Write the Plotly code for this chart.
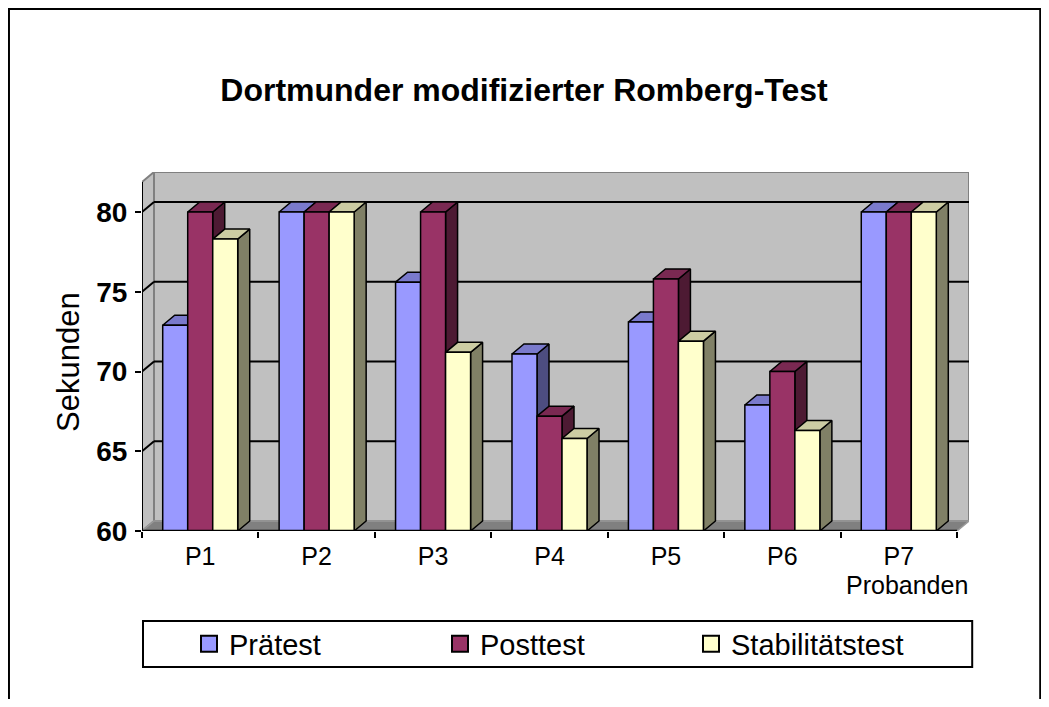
import plotly.graph_objects as go

# ---------------- data ----------------
categories = ["P1", "P2", "P3", "P4", "P5", "P6", "P7"]
praetest = [72.9, 80, 75.6, 71.1, 73.1, 67.9, 80]
posttest = [80, 80, 80, 67.2, 75.8, 70.0, 80]
stabilitaet = [78.3, 80, 71.2, 65.8, 71.9, 66.3, 80]
series_names = ["Prätest", "Posttest", "Stabilitätstest"]
y_tick_vals = [60, 65, 70, 75, 80]

# ---------------- style / geometry (page pixels) ----------------
PAGE_W, PAGE_H = 1049, 707
OFF = 8                      # default body margin of the html page
W, H = PAGE_W - 2 * OFF, PAGE_H - 2 * OFF
FONT = "Arial, Liberation Sans, sans-serif"
PX_CAT = 116.4          # pixels per category
PX_VAL = 15.95          # pixels per value unit
PLOT_L_PG, Y0_PG, TOP_PG = 142, 531, 172
DEPTH_X_PX, DEPTH_Y_PX = 12, 10
BAR_PX = 25
Y_MIN = 60

front_cols = ["#9999FF", "#993366", "#FFFFCC"]
top_cols = ["#7A7ACC", "#7A2952", "#CCCCA3"]
side_cols = ["#4D4D80", "#4D1A33", "#808066"]

n = len(categories)
dx = DEPTH_X_PX / PX_CAT
dy = DEPTH_Y_PX / PX_VAL
bw = BAR_PX / PX_CAT
x_min, x_max = -0.5, n - 0.5 + dx
y_max = Y_MIN + (Y0_PG - TOP_PG) / PX_VAL
plot_w = (x_max - x_min) * PX_CAT
plot_h = Y0_PG - TOP_PG
PLOT_L = PLOT_L_PG - OFF
Y0 = Y0_PG - OFF
TOP = TOP_PG - OFF
margin_r = W - PLOT_L - plot_w
margin_b = H - Y0


def px2paper_x(page_px):
    return (page_px - PLOT_L_PG) / plot_w


def px2paper_y(page_py):
    return (Y0_PG - page_py) / plot_h


fig = go.Figure()


def poly(xs, ys, fill, line_col="black", lw=1.5):
    fig.add_trace(go.Scatter(
        x=xs + [xs[0]], y=ys + [ys[0]], mode="lines", fill="toself",
        fillcolor=fill, line=dict(color=line_col, width=lw),
        hoverinfo="skip", showlegend=False))


def line(xs, ys, col="black", lw=2):
    fig.add_trace(go.Scatter(x=xs, y=ys, mode="lines",
                             line=dict(color=col, width=lw),
                             hoverinfo="skip", showlegend=False))


# back wall
poly([x_min + dx, x_max, x_max, x_min + dx],
     [Y_MIN + dy, Y_MIN + dy, y_max, y_max], "#C0C0C0", "#808080", 2)
# side wall
poly([x_min, x_min + dx, x_min + dx, x_min],
     [Y_MIN, Y_MIN + dy, y_max, y_max - dy], "#C0C0C0", "#808080", 2)
# floor
poly([x_min, n - 0.5, x_max, x_min + dx],
     [Y_MIN, Y_MIN, Y_MIN + dy, Y_MIN + dy], "#808080", "#999999", 1.5)

# gridlines on back wall + diagonals on side wall
for v in y_tick_vals[1:]:
    line([x_min + dx, x_max], [v + dy, v + dy], "black", 2)
    line([x_min, x_min + dx], [v, v + dy], "black", 2)

# bars
series = [praetest, posttest, stabilitaet]
for i in range(n):
    for k, vals in enumerate(series):
        v = vals[i]
        x0 = i - 1.5 * bw + k * bw
        x1 = x0 + bw
        poly([x1, x1 + dx, x1 + dx, x1], [Y_MIN, Y_MIN + dy, v + dy, v], side_cols[k])
        poly([x0, x1, x1 + dx, x0 + dx], [v, v, v + dy, v + dy], top_cols[k])
        poly([x0, x1, x1, x0], [Y_MIN, Y_MIN, v, v], front_cols[k])

# front axis lines
line([x_min, x_min], [Y_MIN, y_max - dy], "black", 2)
line([x_min, n - 0.5], [Y_MIN, Y_MIN], "black", 2.5)

# legend entries (square markers)
for k, name in enumerate(series_names):
    fig.add_trace(go.Scatter(x=[None], y=[None], name=name, mode="markers",
                             marker=dict(symbol="square", size=16, color=front_cols[k],
                                         line=dict(color="black", width=2))))

fig.update_layout(
    width=W, height=H,
    margin=dict(l=PLOT_L, r=margin_r, t=TOP, b=margin_b, pad=0),
    paper_bgcolor="white", plot_bgcolor="white",
    font=dict(family=FONT, color="black"),
    title=dict(text="<b>Dortmunder modifizierter Romberg-Test</b>",
               x=(524 - OFF) / W, xanchor="center", xref="container",
               y=1 - (90 - OFF) / H, yanchor="middle", yref="container",
               font=dict(size=32, family=FONT, color="black")),
    showlegend=True,
    legend=dict(orientation="h", x=px2paper_x(189), xanchor="left",
                y=px2paper_y(644), yanchor="middle",
                font=dict(size=29, family=FONT), bgcolor="rgba(0,0,0,0)",
                entrywidth=206, entrywidthmode="pixels", traceorder="normal",
                itemsizing="trace"),
    xaxis=dict(range=[x_min, x_max], tickvals=list(range(n)), ticktext=categories,
               showgrid=False, zeroline=False, showline=False, ticks="",
               tickfont=dict(size=25, family=FONT), ticklabelstandoff=8,
               minor=dict(tick0=-0.5, dtick=1, ticks="outside", ticklen=6,
                          tickwidth=2, tickcolor="black", showgrid=False),
               fixedrange=True),
    yaxis=dict(range=[Y_MIN, y_max], tickvals=y_tick_vals,
               ticktext=[str(v) for v in y_tick_vals],
               showgrid=False, zeroline=False, showline=False,
               ticks="outside", ticklen=6, tickwidth=2, tickcolor="black",
               tickfont=dict(size=28, family=FONT, weight="bold"),
               ticklabelstandoff=2, fixedrange=True),
    shapes=[
        dict(type="rect", xref="paper", yref="paper",
             x0=px2paper_x(OFF + 1), x1=px2paper_x(OFF + W - 1),
             y0=px2paper_y(PAGE_H + 40), y1=px2paper_y(OFF + 1),
             line=dict(color="black", width=2), fillcolor="rgba(0,0,0,0)", layer="below"),
        dict(type="rect", xref="paper", yref="paper",
             x0=px2paper_x(143), x1=px2paper_x(972), y0=px2paper_y(667), y1=px2paper_y(621),
             line=dict(color="black", width=2), fillcolor="rgba(0,0,0,0)"),
    ],
    annotations=[
        dict(text="Sekunden", textangle=-90, xref="paper", yref="paper",
             x=px2paper_x(68), y=px2paper_y(362), xanchor="center", yanchor="middle",
             showarrow=False, font=dict(size=31, family=FONT)),
        dict(text="Probanden", xref="paper", yref="paper",
             x=px2paper_x(907), y=px2paper_y(585), xanchor="center", yanchor="middle",
             showarrow=False, font=dict(size=25, family=FONT)),
    ],
)

fig.write_html("out.html")
